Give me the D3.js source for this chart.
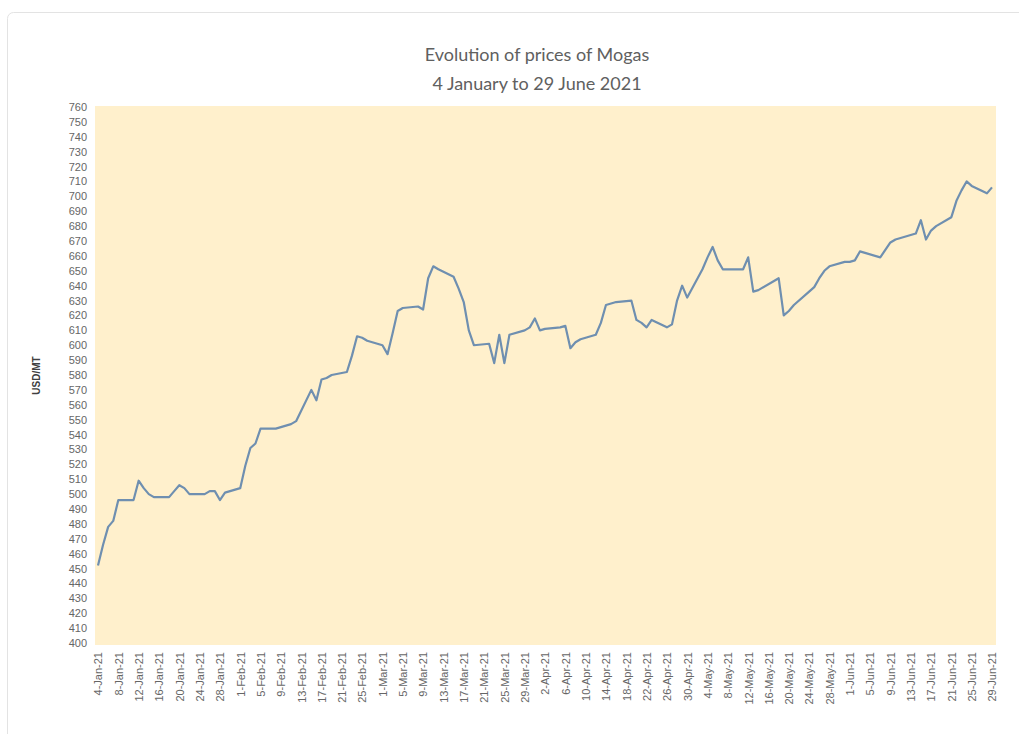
<!DOCTYPE html>
<html>
<head>
<meta charset="utf-8">
<script src="https://cdn.jsdelivr.net/npm/d3@7"></script>
<style>
  html, body { margin: 0; padding: 0; background: #ffffff; }
  svg { display: block; }
</style>
</head>
<body>
<svg id="chart" width="1019" height="734"></svg>
<script>
// ---------------- DATA ----------------
const titleLines = ["Evolution of prices of Mogas", "4 January to 29 June 2021"];
const yAxisTitle = "USD/MT";

const dates = [
  "2021-01-04","2021-01-05","2021-01-06","2021-01-07","2021-01-08",
  "2021-01-11","2021-01-12","2021-01-13","2021-01-14","2021-01-15",
  "2021-01-18","2021-01-19","2021-01-20","2021-01-21","2021-01-22",
  "2021-01-25","2021-01-26","2021-01-27","2021-01-28","2021-01-29",
  "2021-02-01","2021-02-02","2021-02-03","2021-02-04","2021-02-05",
  "2021-02-08","2021-02-09","2021-02-10","2021-02-11","2021-02-12",
  "2021-02-15","2021-02-16","2021-02-17","2021-02-18","2021-02-19",
  "2021-02-22","2021-02-23","2021-02-24","2021-02-25","2021-02-26",
  "2021-03-01","2021-03-02","2021-03-03","2021-03-04","2021-03-05",
  "2021-03-08","2021-03-09","2021-03-10","2021-03-11","2021-03-12",
  "2021-03-15","2021-03-16","2021-03-17","2021-03-18","2021-03-19",
  "2021-03-22","2021-03-23","2021-03-24","2021-03-25","2021-03-26",
  "2021-03-29","2021-03-30","2021-03-31",
  "2021-04-01","2021-04-02",
  "2021-04-05","2021-04-06","2021-04-07","2021-04-08","2021-04-09",
  "2021-04-12","2021-04-13","2021-04-14","2021-04-15","2021-04-16",
  "2021-04-19","2021-04-20","2021-04-21","2021-04-22","2021-04-23",
  "2021-04-26","2021-04-27","2021-04-28","2021-04-29","2021-04-30",
  "2021-05-03","2021-05-04","2021-05-05","2021-05-06","2021-05-07",
  "2021-05-10","2021-05-11","2021-05-12","2021-05-13","2021-05-14",
  "2021-05-17","2021-05-18","2021-05-19","2021-05-20","2021-05-21",
  "2021-05-24","2021-05-25","2021-05-26","2021-05-27","2021-05-28",
  "2021-05-31",
  "2021-06-01","2021-06-02","2021-06-03","2021-06-04",
  "2021-06-07","2021-06-08","2021-06-09","2021-06-10","2021-06-11",
  "2021-06-14","2021-06-15","2021-06-16","2021-06-17","2021-06-18",
  "2021-06-21","2021-06-22","2021-06-23","2021-06-24","2021-06-25",
  "2021-06-28","2021-06-29"
];

const prices = [
  452, 466, 478, 482, 496,
  496, 509, 504, 500, 498,
  498, 502, 506, 504, 500,
  500, 502, 502, 496, 501,
  504, 519, 531, 534, 544,
  544, 545, 546, 547, 549,
  570, 563, 577, 578, 580,
  582, 593, 606, 605, 603,
  600, 594, 608, 623, 625,
  626, 624, 645, 653, 651,
  646, 638, 629, 610, 600,
  601, 588, 607, 588, 607,
  610, 612, 618,
  610, 611,
  612, 613, 598, 602, 604,
  607, 615, 627, 628, 629,
  630, 617, 615, 612, 617,
  612, 614, 630, 640, 632,
  651, 659, 666, 657, 651,
  651, 651, 659, 636, 637,
  643, 645, 620, 623, 627,
  636, 639, 645, 650, 653,
  656,
  656, 657, 663, 662,
  659, 664, 669, 671, 672,
  675, 684, 671, 677, 680,
  686, 697, 704, 710, 707,
  702, 706
];

const xTickLabels = [
  "4-Jan-21","8-Jan-21","12-Jan-21","16-Jan-21","20-Jan-21","24-Jan-21","28-Jan-21",
  "1-Feb-21","5-Feb-21","9-Feb-21","13-Feb-21","17-Feb-21","21-Feb-21","25-Feb-21",
  "1-Mar-21","5-Mar-21","9-Mar-21","13-Mar-21","17-Mar-21","21-Mar-21","25-Mar-21","29-Mar-21",
  "2-Apr-21","6-Apr-21","10-Apr-21","14-Apr-21","18-Apr-21","22-Apr-21","26-Apr-21","30-Apr-21",
  "4-May-21","8-May-21","12-May-21","16-May-21","20-May-21","24-May-21","28-May-21",
  "1-Jun-21","5-Jun-21","9-Jun-21","13-Jun-21","17-Jun-21","21-Jun-21","25-Jun-21","29-Jun-21"
];

const yMin = 400, yMax = 760, yStep = 10;

// ---------------- LAYOUT ----------------
const svg = d3.select("#chart");
const W = 1019, H = 734;
const plot = { left: 95, right: 996, top: 106, bottom: 645 };
const xPad = 3;

const parseISO = d3.timeParse("%Y-%m-%d");
const parseTick = d3.timeParse("%d-%b-%y");
const fmtTick = d3.timeFormat("%-d-%b-%y");

const data = dates.map((d, i) => ({ date: parseISO(d), value: prices[i] }));
const tickDates = xTickLabels.map(parseTick);

const x = d3.scaleTime()
  .domain([tickDates[0], tickDates[tickDates.length - 1]])
  .range([plot.left + xPad, plot.right - 4]);

const y = d3.scaleLinear()
  .domain([yMin, yMax])
  .range([plot.bottom - 2, plot.top + 1]);

const textColor = "#595959";
const font = "'Liberation Sans Narrow', 'Arial Narrow', 'Liberation Sans', sans-serif";

// outer chart frame
svg.append("rect")
  .attr("x", 7.5).attr("y", 12.5)
  .attr("width", W + 20).attr("height", H + 20)
  .attr("rx", 6)
  .attr("fill", "#ffffff")
  .attr("stroke", "#e3e3e3");

// plot background
svg.append("rect")
  .attr("x", plot.left).attr("y", plot.top)
  .attr("width", plot.right - plot.left)
  .attr("height", plot.bottom - plot.top)
  .attr("fill", "#FFF0CC");

// title
const title = svg.append("text")
  .attr("text-anchor", "middle")
  .attr("font-family", "Lato, 'Open Sans', sans-serif")
  .attr("font-size", 18)
  .attr("fill", "#606060");
title.selectAll("tspan").data(titleLines).join("tspan")
  .attr("x", 537)
  .attr("y", (d, i) => 61 + i * 29)
  .text(d => d);

// y axis
const yTicks = d3.range(yMin, yMax + 1, yStep);
const yAxis = d3.axisLeft(y).tickValues(yTicks).tickSize(0).tickPadding(0).tickFormat(d3.format("d"));
const gy = svg.append("g")
  .attr("transform", `translate(${plot.left - 8},0)`)
  .call(yAxis);
gy.select(".domain").remove();
gy.selectAll("text")
  .attr("font-family", font)
  .attr("font-size", 11)
  .attr("fill", "#666666");

// y axis title
svg.append("text")
  .attr("transform", `translate(40,${(plot.top + plot.bottom) / 2}) rotate(-90)`)
  .attr("text-anchor", "middle")
  .attr("font-family", "'Liberation Sans', Arial, sans-serif")
  .attr("font-weight", "bold")
  .attr("font-size", 10)
  .attr("fill", "#404040")
  .text(yAxisTitle);

// x axis
const xAxis = d3.axisBottom(x).tickValues(tickDates).tickSize(0).tickPadding(0).tickFormat(fmtTick);
const gx = svg.append("g")
  .attr("transform", `translate(0,${plot.bottom + 7})`)
  .call(xAxis);
gx.select(".domain").remove();
gx.selectAll("text")
  .attr("font-family", font)
  .attr("font-size", 11)
  .attr("fill", "#666666")
  .attr("text-anchor", "end")
  .attr("dy", "0.35em")
  .attr("transform", "rotate(-90)")
  .attr("x", 0).attr("y", 0);

// line
const line = d3.line()
  .x(d => x(d.date))
  .y(d => y(d.value));

svg.append("path")
  .datum(data)
  .attr("fill", "none")
  .attr("stroke", "#6F8FB0")
  .attr("stroke-width", 2.2)
  .attr("stroke-linejoin", "round")
  .attr("d", line);
</script>
</body>
</html>
